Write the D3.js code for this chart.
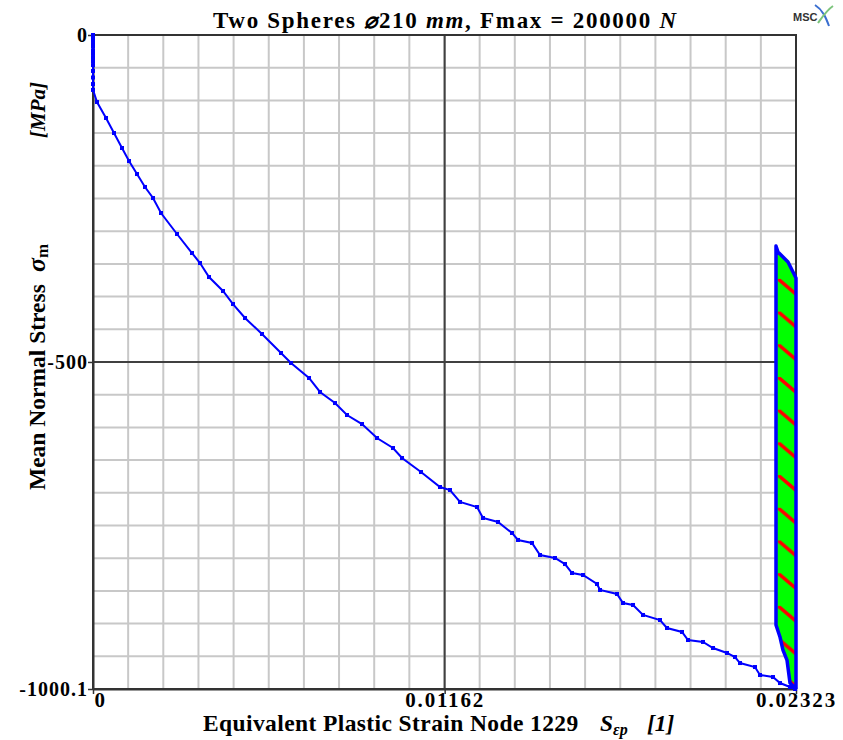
<!DOCTYPE html>
<html>
<head>
<meta charset="utf-8">
<script src="https://cdn.jsdelivr.net/npm/d3@7"></script>
<style>
  body { margin: 0; background: #fff; }
  svg text { font-family: "Liberation Serif", "Times New Roman", serif; font-weight: bold; }
</style>
</head>
<body>
<div id="chart"></div>
<script>
// loading path: equivalent plastic strain vs mean normal stress
const strainLoad = [0, 0, 0, 0, 0, 0, 0, 0, 0, 0, 0, 0, 0, 0,
  0.000132, 0.000430, 0.000694, 0.000958, 0.001190, 0.001454, 0.001718, 0.001983, 0.002247,
  0.002776, 0.003271, 0.003536, 0.003833, 0.004296, 0.004626, 0.005023, 0.005584, 0.006212,
  0.006543, 0.007138, 0.007501, 0.007997, 0.008393, 0.008889, 0.009384, 0.009913, 0.010211,
  0.010838, 0.011466, 0.011797, 0.012127, 0.012689, 0.012887, 0.013383, 0.013845, 0.014044,
  0.014506, 0.014771, 0.015266, 0.015597, 0.015828, 0.016192, 0.016654, 0.016754, 0.017315,
  0.017513, 0.017844, 0.018174, 0.018736, 0.018967, 0.019463, 0.019661, 0.020157, 0.020487,
  0.020950, 0.021214, 0.021380, 0.021875, 0.022040, 0.022470, 0.022701, 0.023032, 0.02320];
const stressLoad = [0, -5, -9, -14, -18, -24, -29, -35, -40, -46, -55, -65, -75, -84,
  -102.5, -126.9, -149.9, -172.8, -192.7, -212.6, -232.4, -249.3, -272.2,
  -304.3, -333.4, -348.7, -370.1, -391.5, -411.4, -432.8, -457.2, -486.3,
  -501.6, -524.5, -545.9, -562.8, -581.1, -594.9, -616.3, -631.6, -646.9,
  -668.3, -691.2, -695.8, -714.1, -721.8, -738.6, -744.7, -761.5, -772.2,
  -776.8, -795.2, -799.8, -809.0, -822.7, -825.8, -839.5, -848.7, -854.8,
  -868.6, -871.6, -886.9, -894.6, -906.8, -912.9, -925.2, -928.2, -937.4,
  -945.0, -951.2, -960.4, -966.5, -978.7, -981.8, -991.0, -997.1, -1000.1];

// unloading / reloading loop at the end of the path
const strainLoop = [0.02323, 0.02323, 0.023131, 0.022966, 0.022635, 0.022569, 0.022569,
  0.022701, 0.022800, 0.022932, 0.023032, 0.02323];
const stressLoop = [-1000.1, -371.6, -362.4, -347.1, -331.8, -322.7, -902.2,
  -920.6, -940.5, -955.8, -991.0, -1000.1];

const xTicks = [0, 0.01162, 0.02323];
const xTickLabels = ["0", "0.01162", "0.02323"];
const yTicks = [0, -500, -1000.1];
const yTickLabels = ["0", "-500", "-1000.1"];

const W = 843, H = 740;
const mLeft = 93, mRight = 796, mTop = 35, mBottom = 689;

const svg = d3.select("#chart").append("svg")
  .attr("width", W).attr("height", H);

const x = d3.scaleLinear().domain([0, 0.02323]).range([mLeft, mRight]);
const y = d3.scaleLinear().domain([-1000.1, 0]).range([mBottom, mTop]);

// minor grid, 20 divisions each way
const gx = d3.range(1, 20).map(i => i / 20 * 0.02323);
const gy = d3.range(1, 20).map(i => -i / 20 * 1000.1);
svg.append("g").selectAll("line").data(gx).enter().append("line")
  .attr("x1", d => x(d)).attr("x2", d => x(d))
  .attr("y1", mTop).attr("y2", mBottom)
  .attr("stroke", "#c8c8c8").attr("stroke-width", 2);
svg.append("g").selectAll("line").data(gy).enter().append("line")
  .attr("y1", d => y(d)).attr("y2", d => y(d))
  .attr("x1", mLeft).attr("x2", mRight)
  .attr("stroke", "#c8c8c8").attr("stroke-width", 2);

// major centre lines
svg.append("line").attr("x1", x(0.01162)).attr("x2", x(0.01162))
  .attr("y1", mTop).attr("y2", mBottom).attr("stroke", "#404040").attr("stroke-width", 2);
svg.append("line").attr("y1", y(-500)).attr("y2", y(-500))
  .attr("x1", mLeft).attr("x2", mRight).attr("stroke", "#404040").attr("stroke-width", 2);

// frame
svg.append("rect").attr("x", mLeft).attr("y", mTop)
  .attr("width", mRight - mLeft).attr("height", mBottom - mTop)
  .attr("fill", "none").attr("stroke", "#333").attr("stroke-width", 2);

// axes (ticks + labels)
const xAxis = svg.append("g").attr("transform", "translate(0," + mBottom + ")")
  .call(d3.axisBottom(x).tickValues(xTicks).tickFormat((d, i) => xTickLabels[i]).tickSize(5).tickSizeOuter(0));
const yAxis = svg.append("g").attr("transform", "translate(" + mLeft + ",0)")
  .call(d3.axisLeft(y).tickValues(yTicks).tickFormat((d, i) => yTickLabels[i]).tickSize(5).tickSizeOuter(0));
[xAxis, yAxis].forEach(a => {
  a.select(".domain").attr("stroke", "#333").attr("stroke-width", 2);
  a.selectAll(".tick line").attr("stroke", "#333").attr("stroke-width", 1.5);
  a.selectAll(".tick text").attr("fill", "#000")
    .style("font-family", "'Liberation Serif', serif").style("font-weight", "bold");
});
xAxis.selectAll(".tick text").style("font-size", "21px").attr("letter-spacing", "1.8px")
  .attr("y", 18).attr("dy", 0);
xAxis.selectAll(".tick text").filter((d, i) => i === 0).attr("text-anchor", "start").attr("x", 1);
yAxis.selectAll(".tick text").style("font-size", "20px").attr("letter-spacing", "1px")
  .attr("x", -5).attr("dy", "0.34em");

// loop fill with hatching
const defs = svg.append("defs");
const pat = defs.append("pattern").attr("id", "hatch")
  .attr("patternUnits", "userSpaceOnUse")
  .attr("x", x(0.02257) + 2).attr("y", mTop + 15)
  .attr("width", 200).attr("height", (mBottom - mTop) / 20);
pat.append("rect").attr("width", 200).attr("height", (mBottom - mTop) / 20).attr("fill", "#00ff00");
pat.append("line").attr("x1", 0).attr("y1", 0).attr("x2", 20).attr("y2", 17)
  .attr("stroke", "#ff0000").attr("stroke-width", 3.5);

const loopPts = strainLoop.map((d, i) => [d, stressLoop[i]]);
const loadPts = strainLoad.map((d, i) => [d, stressLoad[i]]);
const line = d3.line().x(d => x(d[0])).y(d => y(d[1]));

svg.append("path").datum(loopPts).attr("d", line)
  .attr("fill", "url(#hatch)").attr("stroke", "#0000ff")
  .attr("stroke-width", 3.5).attr("stroke-linejoin", "round");

svg.append("path").datum(loadPts).attr("d", line)
  .attr("fill", "none").attr("stroke", "#0000ff").attr("stroke-width", 2);
svg.append("g").selectAll("rect").data(loadPts).enter().append("rect")
  .attr("x", d => x(d[0]) - 2).attr("y", d => y(d[1]) - 2)
  .attr("width", 4).attr("height", 4).attr("fill", "#0000ff");

// title
const title = svg.append("text").attr("x", 213).attr("y", 28)
  .attr("textLength", 463).attr("lengthAdjust", "spacing")
  .style("font-size", "23px");
title.append("tspan").text("Two Spheres  ");
title.append("tspan").style("font-family", "'DejaVu Serif', serif").style("font-style", "italic").style("font-size", "22px").text("\u2300");
title.append("tspan").text("210 ");
title.append("tspan").style("font-style", "italic").text("mm");
title.append("tspan").text(", Fmax = 200000 ");
title.append("tspan").style("font-style", "italic").text("N");

// axis titles
const xl = svg.append("text").attr("y", 731).style("font-size", "23.5px");
xl.append("tspan").attr("x", 203).attr("letter-spacing", "0.4px").text("Equivalent Plastic Strain Node 1229");
xl.append("tspan").attr("x", 600).style("font-style", "italic").text("S");
xl.append("tspan").style("font-style", "italic").style("font-size", "16px").attr("dy", 4).text("\u03b5p");
xl.append("tspan").attr("x", 647).style("font-style", "italic").attr("dy", -4).text("[1]");

const yl = svg.append("text").attr("transform", "translate(45,490) rotate(-90)")
  .style("font-size", "23.5px");
yl.append("tspan").attr("x", 0).text("Mean Normal Stress");
yl.append("tspan").attr("x", 218).style("font-style", "italic").style("font-size", "26px").text("\u03c3");
yl.append("tspan").style("font-size", "17px").attr("dy", 3).text("m");
yl.append("tspan").attr("x", 352).style("font-style", "italic").style("font-size", "21px").attr("dy", -3).text("[MPa]");

// MSC logo
const logo = svg.append("g").attr("transform", "translate(793,4)");
logo.append("text").attr("x", 0).attr("y", 17).style("font-family", "'Liberation Sans', sans-serif")
  .style("font-size", "11px").attr("fill", "#333").text("MSC");
logo.append("path").attr("d", "M22,1 C30,6 33,14 36,22").attr("fill", "none")
  .attr("stroke", "#3a6fd0").attr("stroke-width", 2);
logo.append("path").attr("d", "M25,19 C30,12 34,6 40,2").attr("fill", "none")
  .attr("stroke", "#7cc47c").attr("stroke-width", 2);
</script>
</body>
</html>
